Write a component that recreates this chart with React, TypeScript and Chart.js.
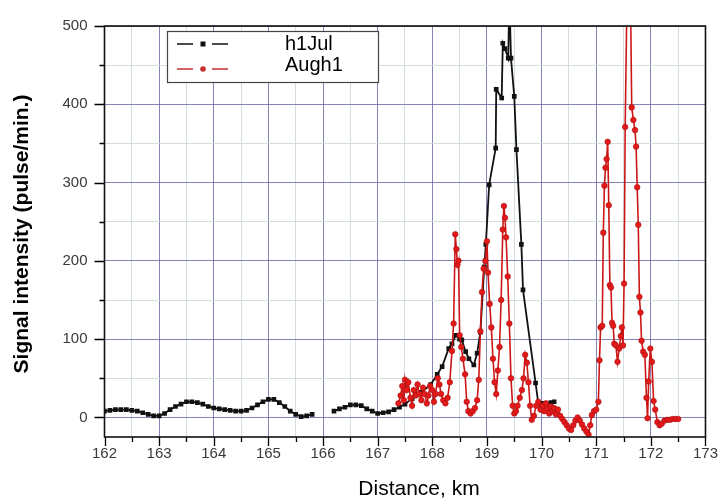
import React, { useEffect, useRef } from 'react';
import { Chart, registerables } from 'chart.js';
Chart.register(...registerables);

const seriesNames = ['h1Jul', 'Augh1'];

const julDistance = [
  162.0, 162.1, 162.2, 162.3, 162.4, 162.5, 162.6, 162.7, 162.8, 162.9,
  163.0, 163.1, 163.2, 163.3, 163.4, 163.5, 163.6, 163.7, 163.8, 163.9,
  164.0, 164.1, 164.2, 164.3, 164.4, 164.5, 164.6, 164.7, 164.8, 164.9,
  165.0, 165.1, 165.2, 165.3, 165.4, 165.5, 165.6, 165.7, 165.8,
  166.0,
  166.2, 166.3, 166.4, 166.5, 166.6, 166.7, 166.8, 166.9, 167.0, 167.1, 167.2, 167.3, 167.4,
  167.5, 167.63, 167.8, 167.97, 168.09, 168.18, 168.3, 168.36, 168.43, 168.5, 168.54, 168.61,
  168.67, 168.76, 168.82, 168.88, 168.95, 168.98, 169.04, 169.16, 169.17, 169.27, 169.29,
  169.33, 169.39, 169.41, 169.44, 169.5, 169.54, 169.63, 169.66, 169.89, 169.94, 170.0,
  170.1, 170.17, 170.23,
];
const julSignal = [
  8, 9, 10, 10, 10, 9, 8, 6, 4, 2,
  2, 5, 10, 14, 17, 20, 20, 19, 17, 14,
  12, 11, 10, 9, 8, 8, 9, 12, 16, 20,
  23, 23, 19, 14, 8, 4, 1, 2, 4,
  null,
  8, 11, 13, 16, 16, 15, 11, 8, 5, 6, 7, 10, 13,
  17, 24, 32, 42, 55, 65, 88, 94, 105, 100, 99, 84,
  75, 67, 82, 109, 192, 221, 297, 344, 419, 408, 478,
  471, 459, 540, 459, 410, 342, 221, 163, 44, 18, 18,
  17, 19, 20,
];

const augDistance = [
  167.38, 167.42, 167.45, 167.48, 167.5, 167.53, 167.56, 167.6, 167.63, 167.66,
  167.7, 167.73, 167.76, 167.8, 167.83, 167.86, 167.9, 167.93, 167.96, 168.0,
  168.03, 168.06, 168.1, 168.13, 168.16, 168.2, 168.24, 168.28, 168.32, 168.36,
  168.39, 168.42, 168.44, 168.46, 168.48, 168.5, 168.53, 168.56, 168.6, 168.63,
  168.66, 168.7, 168.74, 168.78, 168.82, 168.85, 168.88, 168.91, 168.94, 168.97,
  169.0, 169.02, 169.05, 169.08, 169.11, 169.14, 169.17, 169.2, 169.23, 169.26,
  169.29, 169.31, 169.33, 169.35, 169.38, 169.41, 169.44, 169.47, 169.5, 169.53,
  169.56, 169.6, 169.64, 169.67, 169.7, 169.73, 169.76, 169.79, 169.82, 169.86,
  169.9, 169.94, 169.98, 170.02, 170.05, 170.08, 170.11, 170.14, 170.17, 170.2,
  170.23, 170.26, 170.3, 170.34, 170.38, 170.42, 170.46, 170.5, 170.54, 170.58,
  170.62, 170.66, 170.7, 170.74, 170.78, 170.82, 170.86, 170.89, 170.92, 170.96,
  171.0, 171.04, 171.06, 171.08, 171.11, 171.13, 171.15, 171.17, 171.19, 171.21,
  171.23, 171.25, 171.27, 171.29, 171.31, 171.33, 171.36, 171.39, 171.42, 171.45,
  171.47, 171.49, 171.51, 171.53, 171.56, 171.6, 171.63, 171.65, 171.68, 171.71,
  171.73, 171.75, 171.77, 171.79, 171.81, 171.83, 171.86, 171.89, 171.92, 171.94,
  171.96, 171.99, 172.02, 172.05, 172.08, 172.12, 172.16, 172.2, 172.25, 172.3,
  172.35, 172.4, 172.45, 172.5,
];
const augSignal = [
  18, 28, 40, 22, 48, 35, 45, 25, 15, 35,
  28, 42, 30, 22, 38, 30, 18, 28, 40, 35,
  20, 30, 50, 42, 30, 22, 18, 25, 45, 85,
  120, 234, 215, 195, 200, 105, 90, 75, 55, 20,
  8, 5, 8, 12, 22, 48, 110, 160, 190, 200,
  225, 185, 145, 115, 75, 45, 30, 60, 90, 150,
  240, 270, 255, 230, 180, 120, 50, 15, 5, 8,
  15, 25, 35, 50, 80, 70, 45, 15, -3, 2,
  15, 20, 10, 15, 8, 18, 12, 5, 14, 8,
  12, 4, 10, 2, -2, -6, -10, -14, -16, -10,
  -4, 0, -4, -9, -14, -18, -22, -10, 3, 8,
  10, 20, 73, 115, 117, 236, 296, 319, 330, 352,
  271, 169, 166, 121, 117, 94, 92, 71, 88, 104,
  115, 92, 171, 371, 520, 560, 520, 396, 380, 367,
  346, 294, 246, 154, 134, 98, 84, 80, 25, -1,
  46, 88, 71, 21, 10, -6, -10, -8, -4, -3,
  -3, -2, -2, -2,
];

const xTickLabels = ['162', '163', '164', '165', '166', '167', '168', '169', '170', '171', '172', '173'];
const yTickLabels = ['0', '100', '200', '300', '400', '500'];

const FONT = "'Liberation Sans', Arial, sans-serif";
const MAJOR_GRID = 'rgba(110,110,170,0.85)';
const MINOR_GRID = 'rgba(205,220,215,0.9)';

const xMajor = xTickLabels.map(Number);
const yMajor = yTickLabels.map(Number);
const withMinor = (arr: number[]) => {
  const out: number[] = [];
  arr.forEach((v, i) => {
    out.push(v);
    if (i < arr.length - 1) out.push((v + arr[i + 1]) / 2);
  });
  return out;
};
const isMajorX = (v: number) => xMajor.some((m) => Math.abs(m - v) < 1e-6);
const isMajorY = (v: number) => yMajor.some((m) => Math.abs(m - v) < 1e-6);

const framePlugin = {
  id: 'frame',
  afterDraw(chart: any) {
    const { ctx, chartArea, scales } = chart;
    const { left, top, right, bottom } = chartArea;
    const xs = scales.x;
    const ys = scales.y;
    ctx.save();
    ctx.strokeStyle = '#000';
    ctx.lineWidth = 1.3;
    ctx.beginPath();
    xs.ticks.forEach((t: any) => {
      const px = Math.round(xs.getPixelForValue(t.value)) + 0.5;
      const len = isMajorX(t.value) ? 9 : 5;
      ctx.moveTo(px, bottom);
      ctx.lineTo(px, bottom + len);
    });
    ys.ticks.forEach((t: any) => {
      const py = Math.round(ys.getPixelForValue(t.value)) + 0.5;
      const len = isMajorY(t.value) ? 10 : 5;
      ctx.moveTo(left, py);
      ctx.lineTo(left - len, py);
    });
    ctx.stroke();
    ctx.lineWidth = 1.6;
    ctx.strokeStyle = '#111';
    ctx.strokeRect(left, top, right - left, bottom - top);

    // axis titles
    ctx.fillStyle = '#000';
    ctx.textAlign = 'center';
    ctx.textBaseline = 'middle';
    ctx.font = `21px ${FONT}`;
    ctx.fillText('Distance, km', 419, 489);
    ctx.save();
    ctx.translate(22, 234);
    ctx.rotate(-Math.PI / 2);
    ctx.font = `bold 21px ${FONT}`;
    ctx.fillText('Signal intensity (pulse/min.)', 0, 0);
    ctx.restore();

    // legend
    const bx = 167.5, by = 31.5, bw = 211, bh = 51;
    ctx.fillStyle = '#fff';
    ctx.fillRect(bx, by, bw, bh);
    ctx.lineWidth = 1.2;
    ctx.strokeStyle = '#444';
    ctx.strokeRect(bx, by, bw, bh);
    const rows = [
      { y: 44, ty: 44, color: '#111', marker: 'rect' },
      { y: 69, ty: 65, color: '#c83030', marker: 'circle' },
    ];
    rows.forEach((r, i) => {
      ctx.strokeStyle = r.color;
      ctx.lineWidth = 1.6;
      ctx.beginPath();
      ctx.moveTo(177, r.y);
      ctx.lineTo(193, r.y);
      ctx.moveTo(212, r.y);
      ctx.lineTo(228, r.y);
      ctx.stroke();
      ctx.fillStyle = r.color;
      if (r.marker === 'rect') {
        ctx.fillRect(200.5, r.y - 2.5, 5, 5);
      } else {
        ctx.beginPath();
        ctx.arc(203, r.y, 2.8, 0, Math.PI * 2);
        ctx.fill();
      }
      ctx.fillStyle = '#000';
      ctx.textAlign = 'left';
      ctx.font = `20px ${FONT}`;
      ctx.fillText(chart.data.datasets[i].label, 285, r.ty);
    });
    ctx.restore();
  },
};

export default function App() {
  const ref = useRef<HTMLCanvasElement | null>(null);
  useEffect(() => {
    document.body.style.margin = '0';
    const canvas = ref.current;
    if (!canvas) return;
    const chart = new Chart(canvas, {
      type: 'line',
      data: {
        datasets: [
          {
            label: seriesNames[0],
            data: julDistance.map((x, i) => ({ x, y: julSignal[i] })),
            borderColor: '#111',
            backgroundColor: '#111',
            borderWidth: 1.8,
            pointStyle: 'rect',
            pointRadius: 3.3,
            pointBorderWidth: 0,
            spanGaps: false,
            order: 1,
          },
          {
            label: seriesNames[1],
            data: augDistance.map((x, i) => ({ x, y: augSignal[i] })),
            borderColor: '#cc1616',
            backgroundColor: '#e41a1a',
            pointBorderColor: '#a81010',
            borderWidth: 1.6,
            pointStyle: 'circle',
            pointRadius: 2.8,
            pointBorderWidth: 0.6,
            order: 0,
          },
        ] as any,
      },
      options: {
        responsive: false,
        animation: false,
        events: [],
        layout: { padding: { left: 0, top: 17, right: 19, bottom: 0 } },
        plugins: { legend: { display: false }, tooltip: { enabled: false } },
        scales: {
          x: {
            type: 'linear',
            min: 162,
            max: 173,
            afterBuildTicks: (scale: any) => {
              scale.ticks = withMinor(xMajor).map((v) => ({ value: v }));
            },
            afterFit: (scale: any) => {
              scale.height = 65;
            },
            grid: {
              drawTicks: false,
              color: (c: any) => (isMajorX(c.tick.value) ? MAJOR_GRID : MINOR_GRID),
              lineWidth: 1,
            },
            border: { display: false },
            ticks: {
              autoSkip: false,
              maxRotation: 0,
              padding: 8,
              color: '#3a3a3a',
              font: { family: FONT, size: 15 },
              callback: (v: any) => {
                const idx = xMajor.findIndex((m) => Math.abs(m - Number(v)) < 1e-6);
                return idx >= 0 ? xTickLabels[idx] : '';
              },
            },
          },
          y: {
            type: 'linear',
            min: -25,
            max: 500,
            afterBuildTicks: (scale: any) => {
              scale.ticks = withMinor(yMajor).map((v) => ({ value: v }));
            },
            afterFit: (scale: any) => {
              scale.width = 104.5;
            },
            grid: {
              drawTicks: false,
              color: (c: any) => (isMajorY(c.tick.value) ? MAJOR_GRID : MINOR_GRID),
              lineWidth: 1,
            },
            border: { display: false },
            ticks: {
              autoSkip: false,
              padding: 17,
              color: '#3a3a3a',
              font: { family: FONT, size: 15 },
              callback: (v: any) => {
                const idx = yMajor.findIndex((m) => Math.abs(m - Number(v)) < 1e-6);
                return idx >= 0 ? yTickLabels[idx] : '';
              },
            },
          },
        },
      },
      plugins: [framePlugin],
    } as any);
    return () => chart.destroy();
  }, []);
  return (
    <div style={{ position: 'absolute', left: 0, top: 0, width: 726, height: 502, background: '#fff' }}>
      <canvas ref={ref} width={726} height={502} />
    </div>
  );
}
